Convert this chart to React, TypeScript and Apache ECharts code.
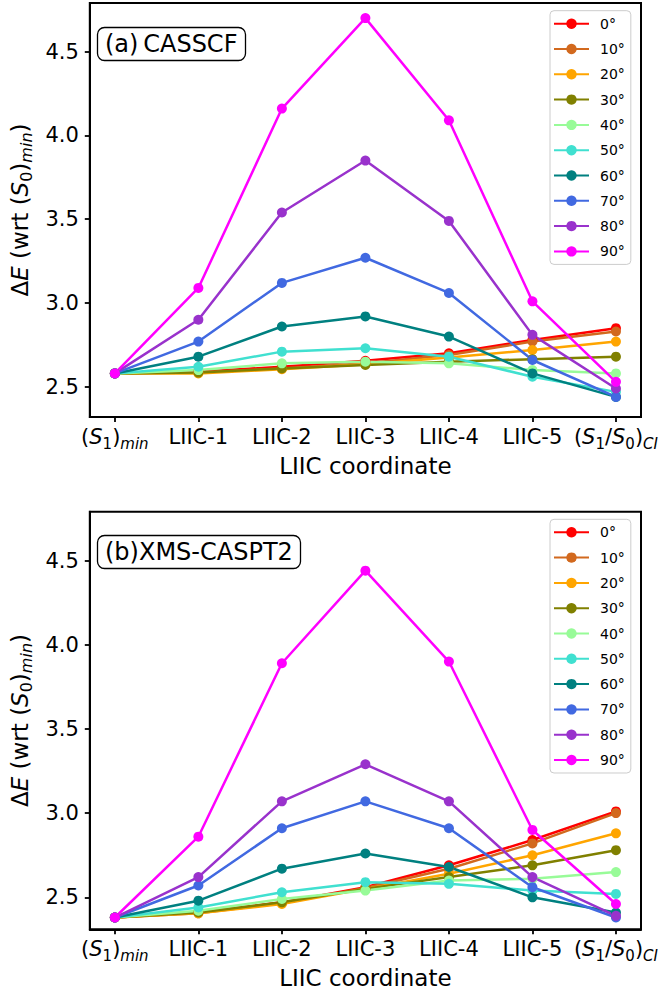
import React, { useEffect, useRef } from 'react';
import * as echarts from 'echarts';

// LIIC path points (x axis)
const categories = ['(S1)min', 'LIIC-1', 'LIIC-2', 'LIIC-3', 'LIIC-4', 'LIIC-5', '(S1/S0)CI'];
// Rich-text versions of the category names (italic S, subscripts)
const categoryLabels = [
  '{n|(}{it|S}{sub|1}{n|)}{subit|min}',
  '{n|LIIC-1}',
  '{n|LIIC-2}',
  '{n|LIIC-3}',
  '{n|LIIC-4}',
  '{n|LIIC-5}',
  '{n|(}{it|S}{sub|1}{n|/}{it|S}{sub|0}{n|)}{subit|CI}',
];
const angles = ['0°', '10°', '20°', '30°', '40°', '50°', '60°', '70°', '80°', '90°'];
const yTicks = [2.5, 3.0, 3.5, 4.0, 4.5];

// (a) CASSCF energies, eV, one array per torsion angle
const casscf0 = [2.58, 2.59, 2.62, 2.655, 2.7, 2.78, 2.85];
const casscf10 = [2.58, 2.585, 2.61, 2.64, 2.69, 2.77, 2.83];
const casscf20 = [2.58, 2.58, 2.605, 2.635, 2.675, 2.72, 2.77];
const casscf30 = [2.58, 2.585, 2.61, 2.63, 2.65, 2.665, 2.68];
const casscf40 = [2.58, 2.6, 2.64, 2.65, 2.64, 2.6, 2.58];
const casscf50 = [2.58, 2.62, 2.71, 2.73, 2.68, 2.56, 2.47];
const casscf60 = [2.58, 2.68, 2.86, 2.92, 2.8, 2.58, 2.44];
const casscf70 = [2.58, 2.77, 3.12, 3.27, 3.06, 2.66, 2.44];
const casscf80 = [2.58, 2.9, 3.54, 3.85, 3.49, 2.81, 2.49];
const casscf90 = [2.58, 3.09, 4.16, 4.7, 4.09, 3.01, 2.53];

// (b) XMS-CASPT2 energies, eV
const xms0 = [2.38, 2.41, 2.47, 2.56, 2.69, 2.84, 3.01];
const xms10 = [2.38, 2.405, 2.465, 2.555, 2.67, 2.82, 3.0];
const xms20 = [2.38, 2.405, 2.46, 2.55, 2.64, 2.75, 2.88];
const xms30 = [2.38, 2.41, 2.47, 2.55, 2.62, 2.69, 2.78];
const xms40 = [2.38, 2.42, 2.49, 2.54, 2.6, 2.61, 2.65];
const xms50 = [2.38, 2.44, 2.53, 2.59, 2.58, 2.54, 2.52];
const xms60 = [2.38, 2.48, 2.67, 2.76, 2.68, 2.5, 2.41];
const xms70 = [2.38, 2.57, 2.91, 3.07, 2.91, 2.56, 2.38];
const xms80 = [2.38, 2.62, 3.07, 3.29, 3.07, 2.62, 2.39];
const xms90 = [2.38, 2.86, 3.89, 4.44, 3.9, 2.9, 2.46];

const casscfSeries = [casscf0, casscf10, casscf20, casscf30, casscf40, casscf50, casscf60, casscf70, casscf80, casscf90];
const xmsSeries = [xms0, xms10, xms20, xms30, xms40, xms50, xms60, xms70, xms80, xms90];

const colors = [
  '#ff0000', '#d2691e', '#ffa500', '#808000', '#98fb98',
  '#40e0d0', '#008080', '#4169e1', '#9932cc', '#ff00ff',
];

const FONT = 'DejaVu Sans';

const tickRich = {
  n: { fontFamily: FONT, fontSize: 21, lineHeight: 28, color: '#000' },
  it: { fontFamily: FONT, fontSize: 21, lineHeight: 28, fontStyle: 'italic', color: '#000' },
  sub: { fontFamily: FONT, fontSize: 15, lineHeight: 16, verticalAlign: 'bottom', color: '#000' },
  subit: { fontFamily: FONT, fontSize: 15, lineHeight: 16, verticalAlign: 'bottom', fontStyle: 'italic', color: '#000' },
};

const nameRich = {
  n: { fontFamily: FONT, fontSize: 23, lineHeight: 30, color: '#000' },
  it: { fontFamily: FONT, fontSize: 23, lineHeight: 30, fontStyle: 'italic', color: '#000' },
  sub: { fontFamily: FONT, fontSize: 16, lineHeight: 17, verticalAlign: 'bottom', color: '#000' },
  subit: { fontFamily: FONT, fontSize: 16, lineHeight: 17, verticalAlign: 'bottom', fontStyle: 'italic', color: '#000' },
};

const yName = '{n|Δ}{it|E}{n| (wrt (}{it|S}{sub|0}{n|)}{subit|min}{n|)}';

const panels = [
  { grid: { left: 80, top: 3, width: 561, height: 414 }, yMin: 2.32, yMax: 4.79, legendTop: 10.7, title: '(a)\u2009CASSCF', titleTop: 27, values: casscfSeries },
  { grid: { left: 80, top: 511.7, width: 561, height: 417.6 }, yMin: 2.31, yMax: 4.79, legendTop: 519.3, title: '(b)XMS-CASPT2', titleTop: 535, values: xmsSeries },
];

const xTickValues = categories.map((_, i) => i);

export default function App() {
  const ref = useRef<HTMLDivElement>(null);

  useEffect(() => {
    if (!ref.current) return;
    const chart = echarts.init(ref.current, undefined, { renderer: 'svg' });

    const option: any = {
      animation: false,
      backgroundColor: '#fff',
      textStyle: { fontFamily: FONT },
      title: panels.map((p) => ({
        text: p.title,
        left: 97,
        top: p.titleTop,
        padding: [5, 8, 5, 8],
        borderColor: '#000',
        borderWidth: 1.3,
        borderRadius: 7,
        backgroundColor: '#fff',
        textStyle: { fontFamily: FONT, fontSize: 24, fontWeight: 'normal', color: '#000' },
      })),
      grid: panels.map((p) => ({
        ...p.grid,
        show: true,
        borderColor: '#000',
        borderWidth: 2,
        backgroundColor: 'transparent',
      })),
      legend: panels.map((p) => ({
        orient: 'vertical',
        left: 550,
        top: p.legendTop,
        itemWidth: 35,
        itemHeight: 13,
        itemGap: 11.3,
        padding: [6, 6, 6, 3],
        backgroundColor: 'rgba(255,255,255,0.8)',
        borderColor: '#cccccc',
        borderWidth: 1,
        borderRadius: 4,
        textStyle: { fontFamily: FONT, fontSize: 14, color: '#000', padding: [0, 0, 0, 6] },
        data: angles,
      })),
      xAxis: panels.map((_, i) => ({
        type: 'value',
        gridIndex: i,
        min: -0.3,
        max: 6.3,
        axisLine: { show: true, onZero: false, lineStyle: { color: '#000', width: 2 } },
        axisTick: { show: true, inside: false, length: 5, customValues: xTickValues, lineStyle: { color: '#000', width: 1.8 } },
        axisLabel: {
          customValues: xTickValues,
          margin: 6,
          formatter: (v: number) => categoryLabels[Math.round(v)],
          rich: tickRich,
        },
        splitLine: { show: false },
        name: 'LIIC coordinate',
        nameLocation: 'middle',
        nameGap: 37,
        nameTextStyle: { fontFamily: FONT, fontSize: 23, color: '#000' },
      })),
      yAxis: panels.map((p, i) => ({
        type: 'value',
        gridIndex: i,
        min: p.yMin,
        max: p.yMax,
        axisLine: { show: true, onZero: false, lineStyle: { color: '#000', width: 2 } },
        axisTick: { show: true, inside: false, length: 5, customValues: yTicks, lineStyle: { color: '#000', width: 1.8 } },
        axisLabel: {
          customValues: yTicks,
          margin: 11,
          formatter: (v: number) => v.toFixed(1),
          fontFamily: FONT,
          fontSize: 21,
          color: '#000',
        },
        splitLine: { show: false },
        name: yName,
        nameLocation: 'middle',
        nameRotate: 90,
        nameGap: 50,
        nameTextStyle: { rich: nameRich },
      })),
      series: panels.flatMap((p, pi) =>
        p.values.map((vals, si) => ({
          type: 'line',
          name: angles[si],
          xAxisIndex: pi,
          yAxisIndex: pi,
          data: vals.map((v, k) => [k, v]),
          symbol: 'circle',
          symbolSize: 10,
          showSymbol: true,
          color: colors[si],
          lineStyle: { color: colors[si], width: 2.5 },
          itemStyle: { color: colors[si] },
        }))
      ),
    };

    chart.setOption(option);
    return () => chart.dispose();
  }, []);

  return (
    <div
      ref={ref}
      style={{ position: 'fixed', left: 0, top: 0, width: 661, height: 992, background: '#fff' }}
    />
  );
}
